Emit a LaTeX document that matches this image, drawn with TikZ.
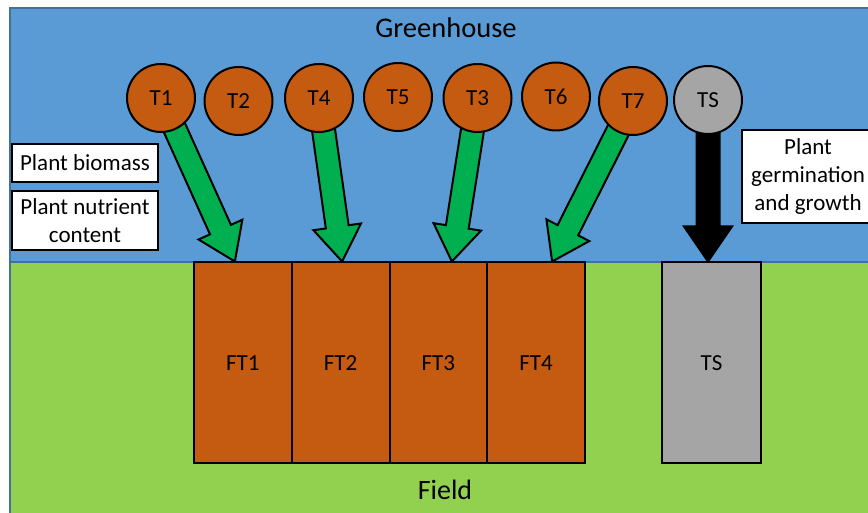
\documentclass[tikz,border=0pt]{standalone}
\usepackage{fontspec}
\setmainfont{Carlito}
\usetikzlibrary{calc}
\pgfdeclarelayer{back}
\pgfdeclarelayer{mid}
\pgfsetlayers{back,mid,main}
\definecolor{skyb}{HTML}{5B9BD5}
\definecolor{dkb}{HTML}{41719C}
\definecolor{grn}{HTML}{92D050}
\definecolor{orng}{HTML}{C55A11}
\definecolor{gry}{HTML}{A5A5A5}
\definecolor{agreen}{HTML}{00B050}
\newcommand\blockarrow[3]{%
  \path coordinate (ba-h) at ($(#3)!35pt!(#2)$);
  \draw[#1] ($(#2)!11.5pt!-90:(#3)$) -- ($(ba-h)!11.5pt!90:(#2)$)
    -- ($(ba-h)!24pt!90:(#2)$) -- (#3) -- ($(ba-h)!24pt!-90:(#2)$)
    -- ($(ba-h)!11.5pt!-90:(#2)$) -- ($(#2)!11.5pt!90:(#3)$) -- cycle;}
\tikzset{
  txt/.style={font=\fontsize{23}{28}\selectfont},
  tc/.style={txt, circle, draw, line width=2pt, minimum size=68pt, inner sep=0pt, fill=orng},
  plotbox/.style={txt, draw, line width=2pt, fill=orng, minimum width=97.75pt, minimum height=200.5pt, inner sep=0pt},
  lbl/.style={txt, draw, line width=1.5pt, fill=white, align=center, inner sep=0pt},
  garrow/.style={draw, line width=2pt, fill=agreen, line join=miter},
  karrow/.style={draw, line width=2pt, fill=black, line join=miter},
}
\begin{document}
\begin{tikzpicture}[x=1pt, y=-1pt]
\useasboundingbox (0,0) rectangle (868,513);
\begin{pgfonlayer}{back}
\begin{scope}
\clip (0,0) rectangle (868,513);
\filldraw[fill=grn, draw=dkb, line width=2pt] (10,262) rectangle (880,525);
\filldraw[fill=skyb, draw=dkb, line width=2pt] (10,8) rectangle (880,262);
\end{scope}
\end{pgfonlayer}

\node[font=\fontsize{28.5}{34}\selectfont] (gh) at (446,28) {Greenhouse};
\node[font=\fontsize{28}{34}\selectfont] (field) at (445,490) {Field};

\node[tc] (T1) at (161,98) {T1};
\node[tc] (T2) at (238.5,101) {T2};
\node[tc] (T4) at (319,98) {T4};
\node[tc] (T5) at (398,97) {T5};
\node[tc] (T3) at (477.5,98) {T3};
\node[tc] (T6) at (556,96.5) {T6};
\node[tc] (T7) at (633,101) {T7};
\node[tc, fill=gry] (TS) at (708,100) {TS};

\node[plotbox] (FT1) at (242.875,362.75) {FT1};
\node[plotbox] (FT2) at (340.625,362.75) {FT2};
\node[plotbox] (FT3) at (438.375,362.75) {FT3};
\node[plotbox] (FT4) at (536.125,362.75) {FT4};
\node[plotbox, fill=gry, minimum width=99pt] (TSf) at (711.5,362.75) {TS};

\node[lbl, minimum width=146pt, minimum height=38pt] (bio) at (85,163) {Plant biomass};
\node[lbl, minimum width=146pt, minimum height=59pt] (nut) at (85,220.5) {Plant nutrient\\content};
\begin{scope}
\clip (0,0) rectangle (868,513);
\node[lbl, minimum width=132pt, minimum height=93pt] (germ) at (808,176.5) {Plant\\germination\\and growth};
\end{scope}

\coordinate (tip1) at ($(FT1.north)+(-8,0)$);
\coordinate (tip2) at ($(FT2.north)+(1.5,0)$);
\coordinate (tip3) at ($(FT3.north)+(13.5,0)$);
\coordinate (tip4) at ($(FT4.north)+(16,0)$);
\coordinate (tip5) at ($(TSf.north)+(-3.5,0)$);

\begin{pgfonlayer}{mid}
\blockarrow{garrow}{T1.center}{tip1}
\blockarrow{garrow}{T4.center}{tip2}
\blockarrow{garrow}{T3.center}{tip3}
\blockarrow{garrow}{T7.center}{tip4}
\blockarrow{karrow}{TS.center}{tip5}
\end{pgfonlayer}
\end{tikzpicture}
\end{document}
